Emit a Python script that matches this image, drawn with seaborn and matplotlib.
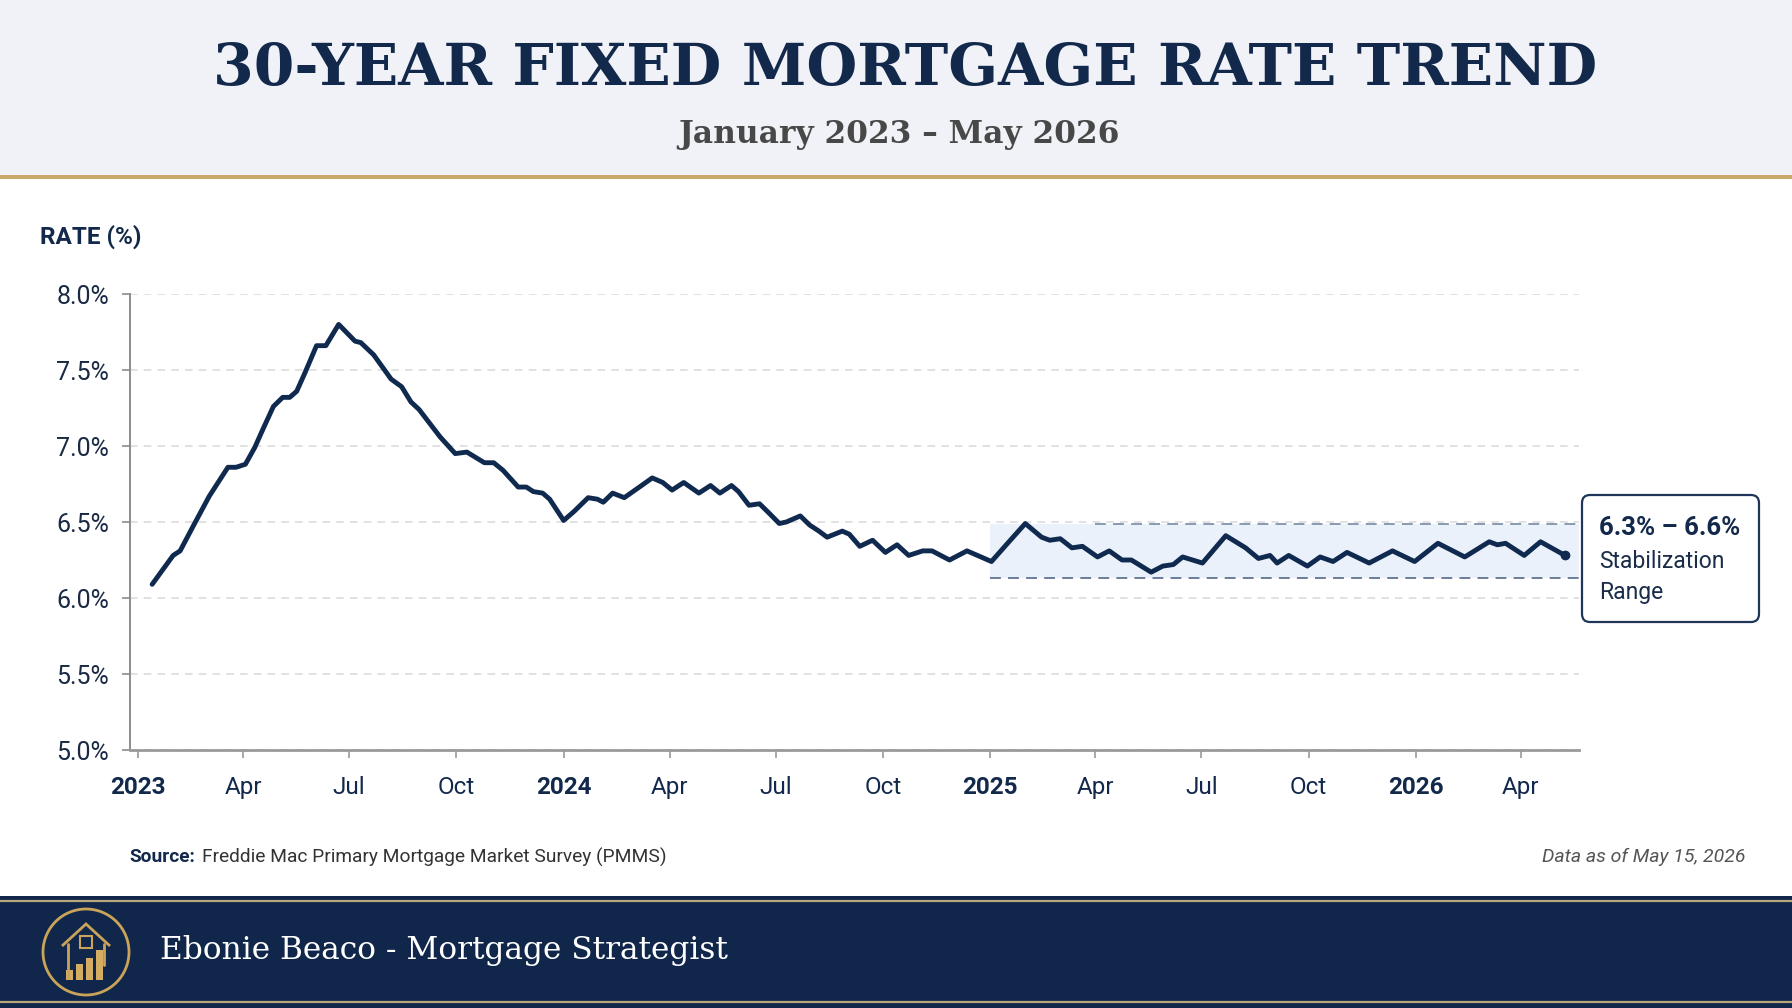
import numpy as np
import pandas as pd
import seaborn as sns
import matplotlib.pyplot as plt
from matplotlib.patches import Rectangle, FancyBboxPatch, Circle, Polygon

W, H = 1792, 1008

# weekly-ish readings of the 30y fixed rate
dates = [
    '2023-01-13', '2023-01-31', '2023-02-06', '2023-02-17', '2023-03-03', '2023-03-19', '2023-03-26',
    '2023-04-03', '2023-04-11', '2023-04-18', '2023-04-27', '2023-05-05', '2023-05-11', '2023-05-17',
    '2023-05-24', '2023-06-03', '2023-06-11', '2023-06-22', '2023-07-06', '2023-07-11', '2023-07-22',
    '2023-08-06', '2023-08-15', '2023-08-23', '2023-08-30', '2023-09-17', '2023-09-30', '2023-10-10',
    '2023-10-25', '2023-11-02', '2023-11-10', '2023-11-23', '2023-11-30', '2023-12-06', '2023-12-14',
    '2023-12-20', '2024-01-01',
    '2024-01-10', '2024-01-22', '2024-01-30', '2024-02-04', '2024-02-12', '2024-02-22', '2024-03-06',
    '2024-03-17', '2024-03-26', '2024-04-03', '2024-04-13', '2024-04-26', '2024-05-06', '2024-05-14',
    '2024-05-24', '2024-05-30', '2024-06-08', '2024-06-17', '2024-06-25', '2024-07-04', '2024-07-10',
    '2024-07-22', '2024-07-30', '2024-08-07', '2024-08-14', '2024-08-27', '2024-09-02', '2024-09-11',
    '2024-09-22', '2024-10-03', '2024-10-13', '2024-10-23', '2024-11-04', '2024-11-12', '2024-11-27',
    '2024-12-12', '2025-01-02',
    '2025-01-17', '2025-01-31', '2025-02-14', '2025-02-21', '2025-03-02', '2025-03-12', '2025-03-21',
    '2025-04-03', '2025-04-13', '2025-04-24', '2025-05-02', '2025-05-19', '2025-05-29', '2025-06-07',
    '2025-06-15', '2025-07-02', '2025-07-22', '2025-08-08', '2025-08-19', '2025-08-29', '2025-09-04',
    '2025-09-14', '2025-09-30', '2025-10-11', '2025-10-22', '2025-11-03', '2025-11-22', '2025-12-12',
    '2025-12-31', '2026-01-20', '2026-02-12', '2026-03-05', '2026-03-12', '2026-03-19', '2026-04-04',
    '2026-04-18', '2026-05-09',
]
rates = [
    6.09, 6.28, 6.31, 6.47, 6.67, 6.86, 6.86, 6.88, 6.99, 7.11, 7.26, 7.32, 7.32, 7.36, 7.48, 7.66,
    7.66, 7.80, 7.69, 7.68, 7.60, 7.44, 7.39, 7.29, 7.24, 7.06, 6.95, 6.96, 6.89, 6.89, 6.84, 6.73,
    6.73, 6.70, 6.69, 6.65, 6.51,
    6.57, 6.66, 6.65, 6.63, 6.69, 6.66, 6.73, 6.79, 6.76, 6.71, 6.76, 6.69, 6.74, 6.69, 6.74, 6.70,
    6.61, 6.62, 6.56, 6.49, 6.50, 6.54, 6.48, 6.44, 6.40, 6.44, 6.42, 6.34, 6.38, 6.30, 6.35, 6.28,
    6.31, 6.31, 6.25, 6.31, 6.24,
    6.37, 6.49, 6.40, 6.38, 6.39, 6.33, 6.34, 6.27, 6.31, 6.25, 6.25, 6.17, 6.21, 6.22, 6.27, 6.23,
    6.41, 6.33, 6.26, 6.28, 6.23, 6.28, 6.21, 6.27, 6.24, 6.30, 6.23, 6.31, 6.24, 6.36, 6.27, 6.37,
    6.35, 6.36, 6.28, 6.37, 6.28,
]

tick_dates = ['2023-01-01', '2023-04-01', '2023-07-01', '2023-10-01',
              '2024-01-01', '2024-04-01', '2024-07-01', '2024-10-01',
              '2025-01-01', '2025-04-01', '2025-07-01', '2025-10-01',
              '2026-01-01', '2026-04-01']
tick_labels = ['2023', 'Apr', 'Jul', 'Oct', '2024', 'Apr', 'Jul', 'Oct',
               '2025', 'Apr', 'Jul', 'Oct', '2026', 'Apr']
y_ticks = [5.0, 5.5, 6.0, 6.5, 7.0, 7.5, 8.0]

band_start = '2025-01-01'
band_top_start = '2025-04-01'
band_low, band_high = 6.13, 6.49
x_start, x_end = '2022-12-25', '2026-05-21'

NAVY = '#0f2a4e'
TITLE = '#13294b'
GOLD = '#c9a86a'
FOOT = '#10264a'

sns.set_theme(style='white')
plt.rcParams['font.family'] = ['Roboto', 'DejaVu Sans']

fig = plt.figure(figsize=(17.92, 10.08), dpi=100)
fig.patch.set_facecolor('white')

# background layer in pixel coordinates
bg = fig.add_axes([0, 0, 1, 1], zorder=0)
bg.set_xlim(0, W)
bg.set_ylim(H, 0)
bg.axis('off')
bg.add_patch(Rectangle((0, 0), W, 176, color='#f0f2f7', lw=0))
bg.add_patch(Rectangle((0, 175), W, 3.5, color=GOLD, lw=0))
bg.add_patch(Rectangle((0, 896), W, 112, color=FOOT, lw=0))
bg.plot([0, W], [901, 901], color='#b9a57e', lw=1.6)
bg.plot([0, W], [1002, 1002], color='#b9a57e', lw=1.6)

bg.text(905, 69, '30-YEAR FIXED MORTGAGE RATE TREND', ha='center', va='center',
        family='DejaVu Serif', weight='bold', size=42, color=TITLE)
bg.text(899, 134, 'January 2023 \u2013 May 2026', ha='center', va='center',
        family='DejaVu Serif', weight='bold', size=22.5, color='#484848')
bg.text(40, 237, 'RATE (%)', ha='left', va='center', weight='bold', size=17.5, color=TITLE)

bg.text(129, 857, 'Source:', ha='left', va='center', weight='bold', size=13.8, color=TITLE)
bg.text(202, 857, 'Freddie Mac Primary Mortgage Market Survey (PMMS)', ha='left', va='center',
        size=13.8, color='#333333')
bg.text(1745, 857, 'Data as of May 15, 2026', ha='right', va='center', style='italic',
        size=14, color='#555555')

bg.text(160, 951, 'Ebonie Beaco - Mortgage Strategist', ha='left', va='center',
        family='DejaVu Serif', size=22.5, color='white')

# logo
bg.add_patch(Circle((86, 952), 43, fill=False, ec='#c9a45a', lw=2))
bg.add_patch(Polygon([(62, 946), (86, 924), (110, 946)], closed=False, fill=False,
                     ec='#c9a45a', lw=2))
bg.plot([68, 68], [944, 978], color='#c9a45a', lw=2)
bg.plot([104, 104], [944, 965], color='#c9a45a', lw=2)
bg.add_patch(Rectangle((80, 936), 12, 12, fill=False, ec='#c9a45a', lw=1.5))
for bx, bh in zip([66, 76, 86, 96], [10, 16, 22, 30]):
    bg.add_patch(Rectangle((bx, 980 - bh), 7, bh, color='#d4ad62', lw=0))

# annotation box
bg.add_patch(FancyBboxPatch((1582, 495), 177, 127, boxstyle='round,pad=0,rounding_size=8',
                            fc='white', ec='#1f3559', lw=1.6))
bg.text(1599, 528, '6.3% \u2013 6.6%', ha='left', va='center', weight='bold', size=18.5, color=TITLE)
bg.text(1599, 562, 'Stabilization', ha='left', va='center', size=16.5, color='#1a2c48')
bg.text(1599, 592, 'Range', ha='left', va='center', size=16.5, color='#1a2c48')

# main chart
ax = fig.add_axes([130 / W, 1 - 750 / H, (1579 - 130) / W, (750 - 294) / H], zorder=1)
ax.set_facecolor('none')

df = pd.DataFrame({'date': pd.to_datetime(dates), 'rate': rates})
xmin, xmax = pd.Timestamp(x_start), pd.Timestamp(x_end)

ax.fill_between([pd.Timestamp(band_start), xmax], band_low, band_high, color='#ebf1fa', lw=0, zorder=1)
ax.hlines(band_low, pd.Timestamp(band_start), xmax, colors='#5f7392', linestyles=(0, (6, 4)), lw=1.3, zorder=2)
ax.hlines(band_high, pd.Timestamp(band_top_start), xmax, colors='#8192ab', linestyles=(0, (6, 4)), lw=1.3, zorder=2)

sns.lineplot(data=df, x='date', y='rate', ax=ax, color=NAVY, linewidth=3.5, zorder=3)
ax.plot(df['date'].iloc[-1], df['rate'].iloc[-1], 'o', color=NAVY, ms=6, zorder=4)

ax.set_xlim(xmin, xmax)
ax.set_ylim(5.0, 8.0)
ax.set_yticks(y_ticks, [f'{v:.1f}%' for v in y_ticks])
ax.set_xticks(pd.to_datetime(tick_dates), tick_labels)
for lab in ax.get_xticklabels():
    if lab.get_text().isdigit():
        lab.set_fontweight('bold')
ax.set_xlabel('')
ax.set_ylabel('')
ax.yaxis.grid(True, color='#d9d9d9', linestyle=(0, (5, 4)), lw=1.1)
ax.xaxis.grid(False)
ax.set_axisbelow(True)

for s in ['top', 'right']:
    ax.spines[s].set_visible(False)
ax.spines['left'].set_color('#8c8c8c')
ax.spines['left'].set_linewidth(1.4)
ax.spines['bottom'].set_color('#9a9a9a')
ax.spines['bottom'].set_linewidth(2)
ax.tick_params(axis='y', length=6, width=1.2, color='#8c8c8c', pad=9, labelsize=18, labelcolor='#1a2a44', left=True)
ax.tick_params(axis='x', length=6, width=1.2, color='#9a9a9a', pad=13, labelsize=17.5, labelcolor='#13294b', bottom=True)

fig.savefig('out.png', dpi=100)
